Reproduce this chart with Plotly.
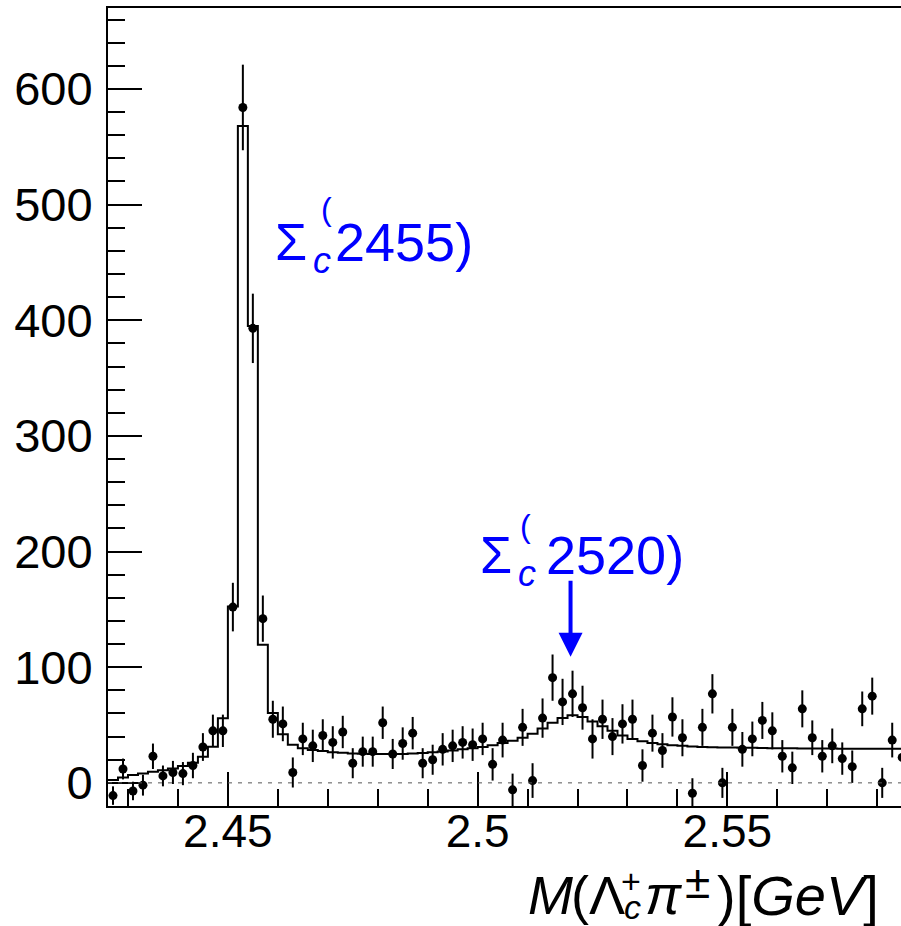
import numpy as np
import plotly.graph_objects as go

# ---- data -------------------------------------------------------------
BIN_LO = 2.426
BIN_WIDTH = 0.002
N_BINS = 80

counts = [-11, 12, -7, -2, 23, 6, 9, 8, 15, 31,
          45, 45, 152, 584, 393, 142, 55, 51, 9, 38,
          32, 41, 35, 44, 17, 27, 27, 52, 25, 34,
          43, 17, 20, 29, 32, 35, 33, 38, 16, 37,
          -6, 48, 2, 56, 91, 70, 77, 65, 38, 55,
          40, 51, 55, 15, 43, 28, 57, 39, -9, 48,
          77, 0, 48, 29, 38, 54, 45, 23, 13, 64,
          39, 23, 32, 21, 14, 64, 75, 0, 37, 22]

errors = [8, 9, 8, 9, 11, 9, 10, 10, 11, 12,
          14, 14, 21, 37, 30, 20, 16, 15, 13, 14,
          14, 14, 14, 14, 13, 13, 13, 14, 13, 14,
          14, 13, 13, 14, 14, 14, 14, 14, 14, 15,
          14, 16, 15, 17, 20, 20, 20, 19, 17, 17,
          16, 17, 17, 14, 16, 15, 17, 16, 13, 16,
          17, 13, 16, 15, 15, 16, 16, 14, 14, 16,
          15, 14, 15, 14, 14, 15, 16, 13, 15, 14]

fit = [2.4, 4.6, 6.8, 8.2, 9.6, 11, 12.5, 14.5, 17.4, 22.6,
       31.3, 55.8, 152.5, 568, 395, 119.5, 60.5, 42, 33, 30,
       28.5, 27.5, 26.5, 26, 25.5, 25.2, 25, 25, 25, 25,
       25.3, 25.8, 26.5, 27.2, 28, 29, 30, 31, 32.5, 34.5,
       36.5, 39, 42.5, 47, 52, 56, 58.5, 57, 53, 49,
       45, 41, 38, 36, 34.5, 33.5, 32.5, 32, 31.5, 31,
       30.8, 30.6, 30.5, 30.4, 30.3, 30.1, 30, 30, 29.9, 29.8,
       29.8, 29.7, 29.7, 29.6, 29.6, 29.5, 29.5, 29.5, 29.4, 29.4]

x_ticks = [2.45, 2.5, 2.55]
x_tick_text = ["2.45", "2.5", "2.55"]
y_ticks = [0, 100, 200, 300, 400, 500, 600]

edges = BIN_LO + BIN_WIDTH * np.arange(N_BINS + 1)
centers = 0.5 * (edges[:-1] + edges[1:])

BLUE = "#0000ff"
FONT = "Liberation Sans, Arial, Helvetica, sans-serif"

fig = go.Figure()

# zero line
fig.add_shape(type="line", xref="paper", yref="y", x0=0, x1=1, y0=0, y1=0,
              line=dict(color="#555555", width=1, dash="4px,6px"))

# fit histogram (step)
fig.add_trace(go.Scatter(
    x=edges, y=list(fit) + [fit[-1]], mode="lines", line_shape="hv",
    line=dict(color="black", width=2), hoverinfo="skip", showlegend=False))

# data points
fig.add_trace(go.Scatter(
    x=centers, y=counts, mode="markers",
    marker=dict(symbol="circle", size=9, color="black"),
    error_y=dict(type="data", array=errors, visible=True,
                 thickness=2, width=0, color="black"),
    showlegend=False))

axis_common = dict(showline=True, linecolor="black", linewidth=2,
                   ticks="inside", tickwidth=2, tickcolor="black",
                   showgrid=False, zeroline=False)

fig.update_xaxes(range=[BIN_LO, BIN_LO + 793 / 4995], mirror=True,
                 tickvals=x_ticks, ticktext=x_tick_text, ticklen=34,
                 tickfont=dict(family=FONT, size=46, color="black"),
                 minor=dict(dtick=0.01, tick0=2.45, ticklen=17, tickwidth=2,
                            tickcolor="black", ticks="inside", showgrid=False),
                 ticklabelstandoff=-16, **axis_common)
fig.update_yaxes(range=[-20, 670], mirror=False,
                 tickvals=y_ticks, ticklen=34,
                 tickfont=dict(family=FONT, size=47, color="black"),
                 minor=dict(dtick=20, tick0=0, ticklen=17, tickwidth=2,
                            tickcolor="black", ticks="inside", showgrid=False),
                 ticklabelstandoff=4, **axis_common)

ann = []
def txt(x, y, text, size, xanchor="left", yanchor="middle", color=BLUE,
        xref="x", yref="y"):
    ann.append(dict(x=x, y=y, xref=xref, yref=yref, text=text, showarrow=False,
                    xanchor=xanchor, yanchor=yanchor,
                    font=dict(family=FONT, size=size, color=color)))

# Sigma_c(2455)
txt(2.45895, 468, "Σ", 52)
txt(2.46966, 496, "(", 32, xanchor="center")
txt(2.46886, 452, "<i>c</i>", 36, xanchor="center")
txt(2.47096, 468, "2455)", 54)
# Sigma_c(2520)
txt(2.50000, 197, "Σ", 52)
txt(2.50960, 222, "(", 32, xanchor="center")
txt(2.50980, 181, "<i>c</i>", 36, xanchor="center")
txt(2.51320, 197, "2520)", 54)

# arrow
ann.append(dict(x=2.5186, y=109, ax=2.5186, ay=176, xref="x", yref="y",
                axref="x", ayref="y", text="", showarrow=True,
                arrowhead=2, arrowsize=1.2, arrowwidth=4, arrowcolor=BLUE))

# x-axis title, built from pieces so the sub/superscript stack
def px_x(p):
    return (p - 108) / 793.0
def px_y(p):
    return (806 - p) / 798.0

K = dict(color="black", xref="paper", yref="paper")
txt(px_x(526), px_y(895), "<i>M</i>", 54, **K)
txt(px_x(569), px_y(895), "(Λ", 54, **K)
txt(px_x(631), px_y(881), "+", 34, xanchor="center", **K)
txt(px_x(632), px_y(907), "<i>c</i>", 34, xanchor="center", **K)
txt(px_x(643), px_y(895), "<i>π</i>", 54, **K)
txt(px_x(683), px_y(882), "±", 46, **K)
txt(px_x(715), px_y(895), ")[<i>GeV</i>]", 56, **K)

fig.update_layout(width=901, height=926,
                  margin=dict(l=108, r=0, t=8, b=120),
                  paper_bgcolor="white", plot_bgcolor="white",
                  annotations=ann, showlegend=False)

fig.write_html("out.html")
